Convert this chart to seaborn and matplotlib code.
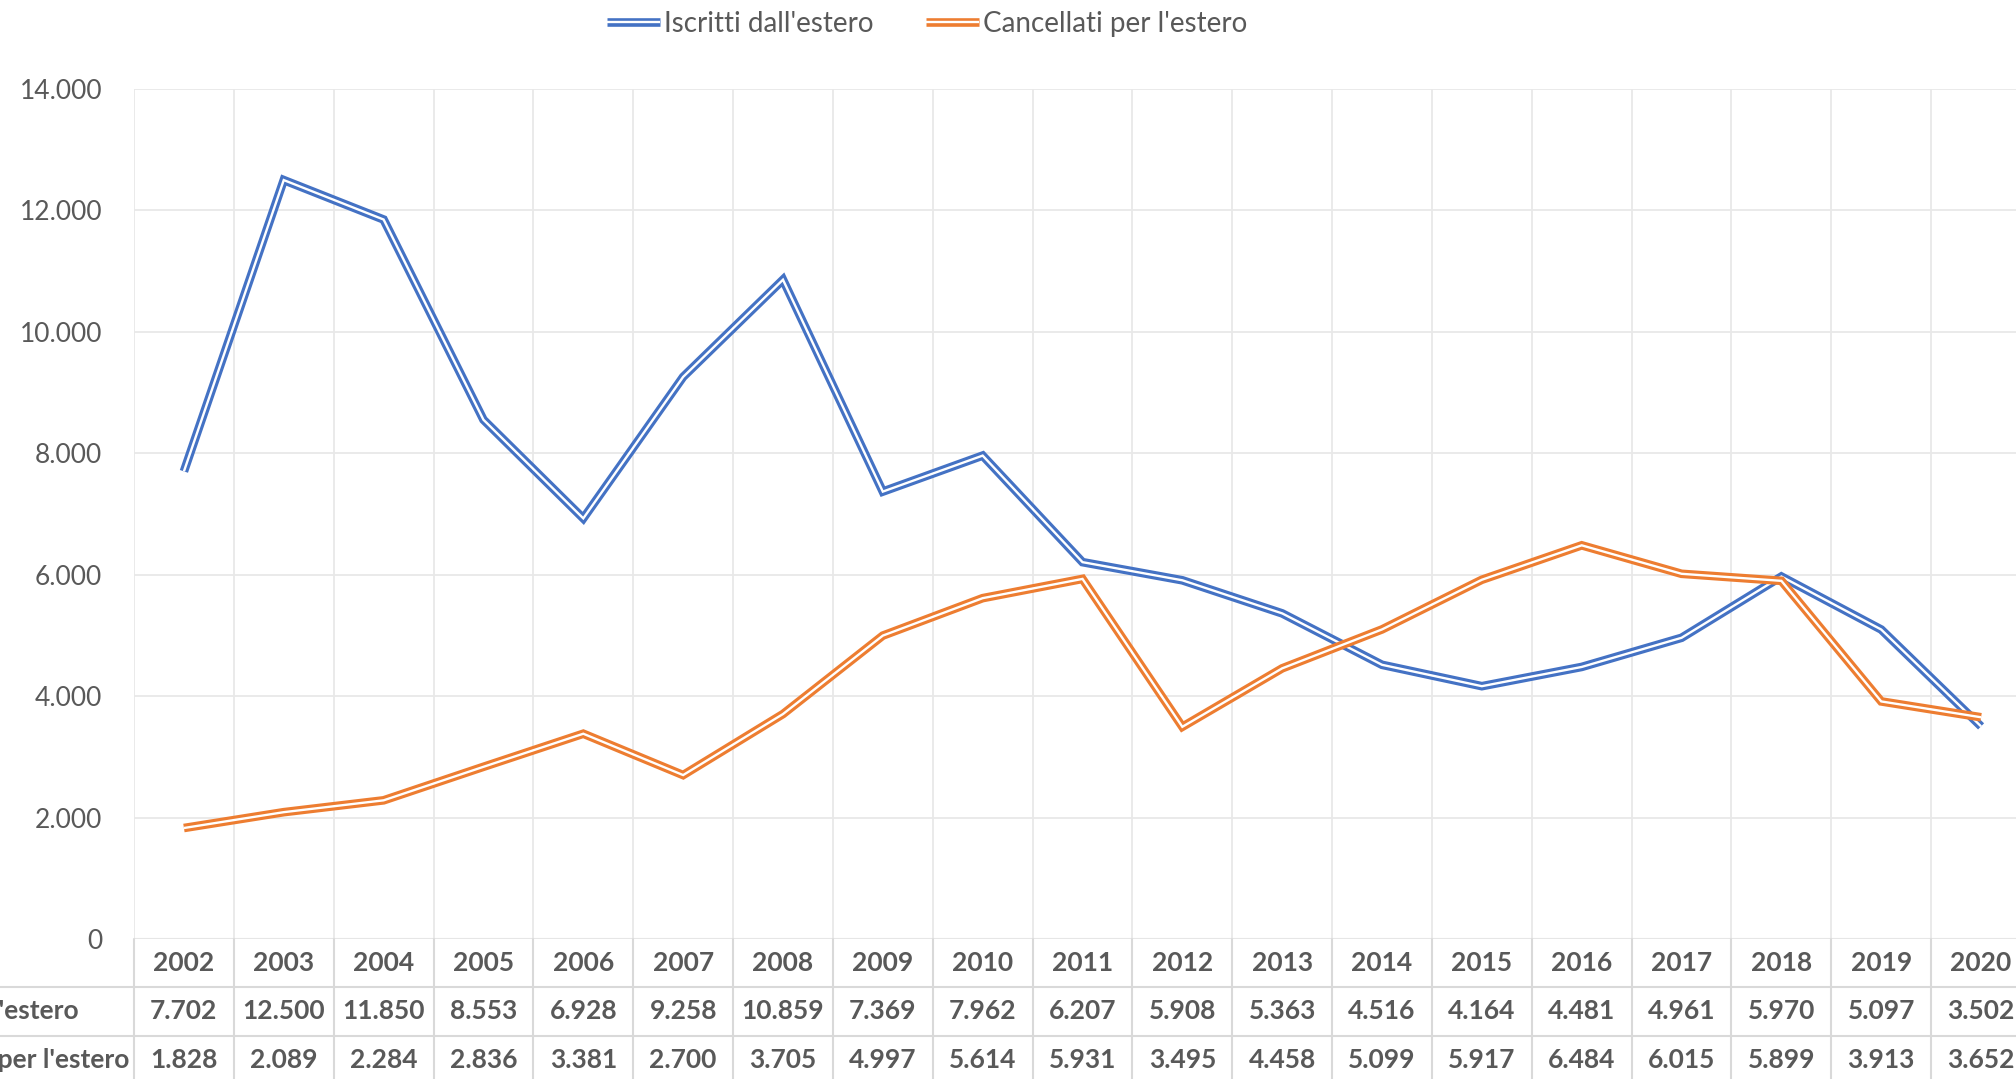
import numpy as np
import matplotlib
matplotlib.use("Agg")
import matplotlib.pyplot as plt
import matplotlib.patheffects as pe
from matplotlib.transforms import blended_transform_factory
import seaborn as sns

years = [str(y) for y in range(2002, 2021)]
iscritti = [7702, 12500, 11850, 8553, 6928, 9258, 10859, 7369, 7962, 6207,
            5908, 5363, 4516, 4164, 4481, 4961, 5970, 5097, 3502]
cancellati = [1828, 2089, 2284, 2836, 3381, 2700, 3705, 4997, 5614, 5931,
              3495, 4458, 5099, 5917, 6484, 6015, 5899, 3913, 3652]
label_isc = "Iscritti dall'estero"
label_can = "Cancellati per l'estero"
yticks = list(range(0, 14001, 2000))

blue = "#4472C4"
orange = "#ED7D31"
txt = "#595959"
grid = "#e8e8e8"
tline = "#d9d9d9"

sns.set_style("white")
plt.rcParams['font.family'] = ['Lato', 'DejaVu Sans']

W, H = 2016, 1079
fig = plt.figure(figsize=(W / 100, H / 100), dpi=100)
ax_left, ax_right, ax_top, ax_bot = 134, 2031, 89, 939
ax = fig.add_axes([ax_left / W, 1 - ax_bot / H, (ax_right - ax_left) / W, (ax_bot - ax_top) / H])

def fmt(v):
    return f"{v:,.0f}".replace(",", ".")

# double ("compound") lines: white core over a wider coloured stroke
xs = np.arange(len(years))
for vals, col, lab in [(iscritti, blue, label_isc), (cancellati, orange, label_can)]:
    sns.lineplot(x=xs, y=vals, ax=ax, color="white", lw=1.7, label=lab,
                 solid_joinstyle="miter", solid_capstyle="butt",
                 path_effects=[pe.Stroke(linewidth=6.2, foreground=col), pe.Normal()])

ax.set_xlim(-0.5, len(years) - 0.5)
ax.set_ylim(0, 14000)
ax.set_yticks(yticks)
ax.set_yticklabels([fmt(v) for v in yticks])
ax.set_xticks(np.arange(-0.5, len(years)))
ax.set_xticklabels([])
ax.tick_params(axis="y", length=0, pad=23, labelsize=19, labelcolor=txt)
ax.tick_params(axis="x", length=0)
ax.grid(True, color=grid, lw=1.3)
ax.set_axisbelow(True)
for s in ax.spines.values():
    s.set_visible(False)
ax.axhline(0, color=tline, lw=1.5, zorder=0)
ax.get_legend().remove()

# legend
handles, labels = ax.get_legend_handles_labels()
fig.legend(handles, labels, loc="center", bbox_to_anchor=(927 / W, 1 - 24 / H),
           ncol=2, frameon=False, fontsize=20, labelcolor=txt,
           handlelength=1.9, handletextpad=0.15, columnspacing=1.9)

# data table below the axes
tr = blended_transform_factory(ax.transData, fig.transFigure)
row_y = [963, 1011, 1060]
for i, y in enumerate(years):
    ax.text(i, 1 - row_y[0] / H, y, transform=tr, ha="center", va="center",
            fontsize=19, fontweight="bold", color=txt, clip_on=False)
    ax.text(i, 1 - row_y[1] / H, fmt(iscritti[i]), transform=tr, ha="center", va="center",
            fontsize=19, fontweight="bold", color=txt, clip_on=False)
    ax.text(i, 1 - row_y[2] / H, fmt(cancellati[i]), transform=tr, ha="center", va="center",
            fontsize=19, fontweight="bold", color=txt, clip_on=False)

for xb in np.arange(-0.5, len(years)):
    fig.add_artist(plt.Line2D([xb, xb], [1 - ax_bot / H, 0], transform=tr, color=tline, lw=1.5))
for yb in [987, 1036]:
    fig.add_artist(plt.Line2D([0, 1], [1 - yb / H] * 2, transform=fig.transFigure, color=tline, lw=1.5))

# row labels, left aligned, cut at the figure edge like the reference
t2 = fig.text(129 / W, 1 - row_y[2] / H, label_can, ha="right", va="center",
              fontsize=19, fontweight="bold", color=txt)
fig.canvas.draw()
x0 = t2.get_window_extent().x0
fig.text(x0 / W, 1 - row_y[1] / H, label_isc, ha="left", va="center",
         fontsize=19, fontweight="bold", color=txt)

fig.savefig("out.png", dpi=100)
